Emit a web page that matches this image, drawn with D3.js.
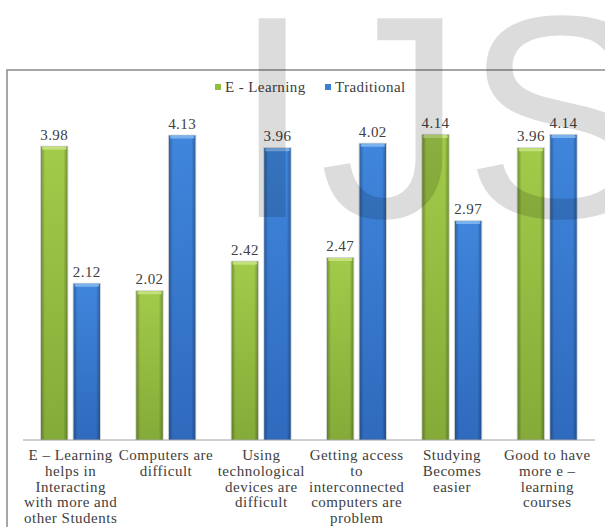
<!DOCTYPE html>
<html>
<head>
<meta charset="utf-8">
<script src="https://cdn.jsdelivr.net/npm/d3@7"></script>
<style>
  body { margin: 0; background: #fff; }
  svg text { font-family: "Liberation Serif", "Times New Roman", "DejaVu Serif", serif; fill: #404040; }
</style>
</head>
<body>
<div id="chart"></div>
<script>
// data
var categories = ["E – Learning helps in Interacting with more and other Students",
                  "Computers are difficult",
                  "Using technological devices are difficult",
                  "Getting access to interconnected computers are problem",
                  "Studying Becomes easier",
                  "Good to have more e – learning courses"];
// how the category labels break into lines
var categoryLines = [["E – Learning", "helps in", "Interacting", "with more and", "other Students"],
                     ["Computers are", "difficult"],
                     ["Using", "technological", "devices are", "difficult"],
                     ["Getting access", "to", "interconnected", "computers are", "problem"],
                     ["Studying", "Becomes", "easier"],
                     ["Good to have", "more e –", "learning", "courses"]];
var seriesNames = ["E - Learning", "Traditional"];
var eLearning   = [3.98, 2.02, 2.42, 2.47, 4.14, 3.96];
var traditional = [2.12, 4.13, 3.96, 4.02, 2.97, 4.14];

var W = 605, H = 527;
var plot = {left: 23, right: 595, base: 440};

var svg = d3.select("#chart").append("svg")
    .attr("width", W).attr("height", H);

var defs = svg.append("defs");
var colors = {
    "E - Learning": {top: "#c4e07a", mid: "#a2cb4a", bot: "#84ab38", legend: "#8fbf3c"},
    "Traditional":  {top: "#7ab2ee", mid: "#3f86dc", bot: "#2f6abd", legend: "#3a7fd5"}
};
seriesNames.forEach(function(s, i) {
    var g = defs.append("linearGradient").attr("id", "v" + i)
        .attr("x1", 0).attr("y1", 0).attr("x2", 0).attr("y2", 1);
    g.append("stop").attr("offset", "0%").attr("stop-color", colors[s].mid);
    g.append("stop").attr("offset", "100%").attr("stop-color", colors[s].bot);
});
var edge = defs.append("linearGradient").attr("id", "edge")
    .attr("x1", 0).attr("y1", 0).attr("x2", 1).attr("y2", 0);
edge.append("stop").attr("offset", "0%").attr("stop-color", "#000").attr("stop-opacity", 0.28);
edge.append("stop").attr("offset", "15%").attr("stop-color", "#000").attr("stop-opacity", 0);
edge.append("stop").attr("offset", "85%").attr("stop-color", "#000").attr("stop-opacity", 0);
edge.append("stop").attr("offset", "100%").attr("stop-color", "#000").attr("stop-opacity", 0.28);

// frame
svg.append("rect")
    .attr("x", 7).attr("y", 70).attr("width", 640).attr("height", 500)
    .attr("fill", "none").attr("stroke", "#8a8a8a").attr("stroke-width", 1.5);

// scales
var x0 = d3.scaleBand().domain(categories).range([plot.left, plot.right]);
var x1 = d3.scaleBand().domain(seriesNames).range([18, 77]).paddingInner(0.19);
var y = d3.scaleLinear().domain([0, 4.5]).range([plot.base, plot.base - 4.5 * 73.7]);

var rows = categories.map(function(c, i) {
    return {cat: c, values: [{s: seriesNames[0], v: eLearning[i], k: 0}, {s: seriesNames[1], v: traditional[i], k: 1}]};
});

var groups = svg.selectAll(".grp").data(rows).enter().append("g")
    .attr("class", "grp")
    .attr("transform", function(d) { return "translate(" + x0(d.cat) + ",0)"; });

var bars = groups.selectAll(".bar").data(function(d) { return d.values; }).enter().append("g");

// soft shadow outline
bars.append("rect")
    .attr("x", function(d) { return x1(d.s) - 1; })
    .attr("width", x1.bandwidth() + 2)
    .attr("y", function(d) { return y(d.v) - 1; })
    .attr("height", function(d) { return y(0) - y(d.v) + 1; })
    .attr("fill", "#d6d6d6");
bars.append("rect")
    .attr("x", function(d) { return x1(d.s); })
    .attr("width", x1.bandwidth())
    .attr("y", function(d) { return y(d.v); })
    .attr("height", function(d) { return y(0) - y(d.v); })
    .attr("fill", function(d) { return "url(#v" + d.k + ")"; });
bars.append("rect")
    .attr("x", function(d) { return x1(d.s); })
    .attr("width", x1.bandwidth())
    .attr("y", function(d) { return y(d.v); })
    .attr("height", function(d) { return y(0) - y(d.v); })
    .attr("fill", "url(#edge)");
bars.append("rect")
    .attr("x", function(d) { return x1(d.s) + 1; })
    .attr("width", x1.bandwidth() - 2)
    .attr("y", function(d) { return y(d.v); })
    .attr("height", 3)
    .attr("rx", 1.5)
    .attr("fill", function(d) { return colors[d.s].top; });

bars.append("text")
    .attr("x", function(d) { return x1(d.s) + x1.bandwidth() / 2; })
    .attr("y", function(d) { return y(d.v) - 7; })
    .attr("text-anchor", "middle")
    .style("font-size", "15px")
    .style("letter-spacing", "0.4px")
    .text(function(d) { return d.v.toFixed(2); });

// axis line
svg.append("line")
    .attr("x1", plot.left).attr("x2", plot.right)
    .attr("y1", y(0)).attr("y2", y(0))
    .attr("stroke", "#a0a0a0").attr("stroke-width", 1);

// category labels
categories.forEach(function(c, i) {
    var t = svg.append("text")
        .attr("text-anchor", "middle")
        .style("font-size", "15px")
        .style("letter-spacing", "0.5px");
    categoryLines[i].forEach(function(line, j) {
        t.append("tspan")
            .attr("x", x0(c) + x0.bandwidth() / 2)
            .attr("y", 460 + j * 15.8)
            .text(line);
    });
});

// legend
var legendX = [215, 325];
seriesNames.forEach(function(s, i) {
    svg.append("rect")
        .attr("x", legendX[i]).attr("y", 84)
        .attr("width", 6).attr("height", 6)
        .attr("fill", colors[s].legend);
    svg.append("text")
        .attr("x", legendX[i] + 10).attr("y", 92)
        .style("font-size", "15px")
        .style("letter-spacing", "0.4px")
        .text(s);
});

// watermark
var wm = svg.append("text")
    .attr("x", 226).attr("y", 217)
    .style("font-family", "'Liberation Sans', Arial, sans-serif")
    .style("font-size", "289px")
    .style("fill", "#000")
    .style("fill-opacity", 0.137);
wm.append("tspan").attr("dx", 6).text("I");
wm.append("tspan").attr("dx", 7).text("JS");
</script>
</body>
</html>
